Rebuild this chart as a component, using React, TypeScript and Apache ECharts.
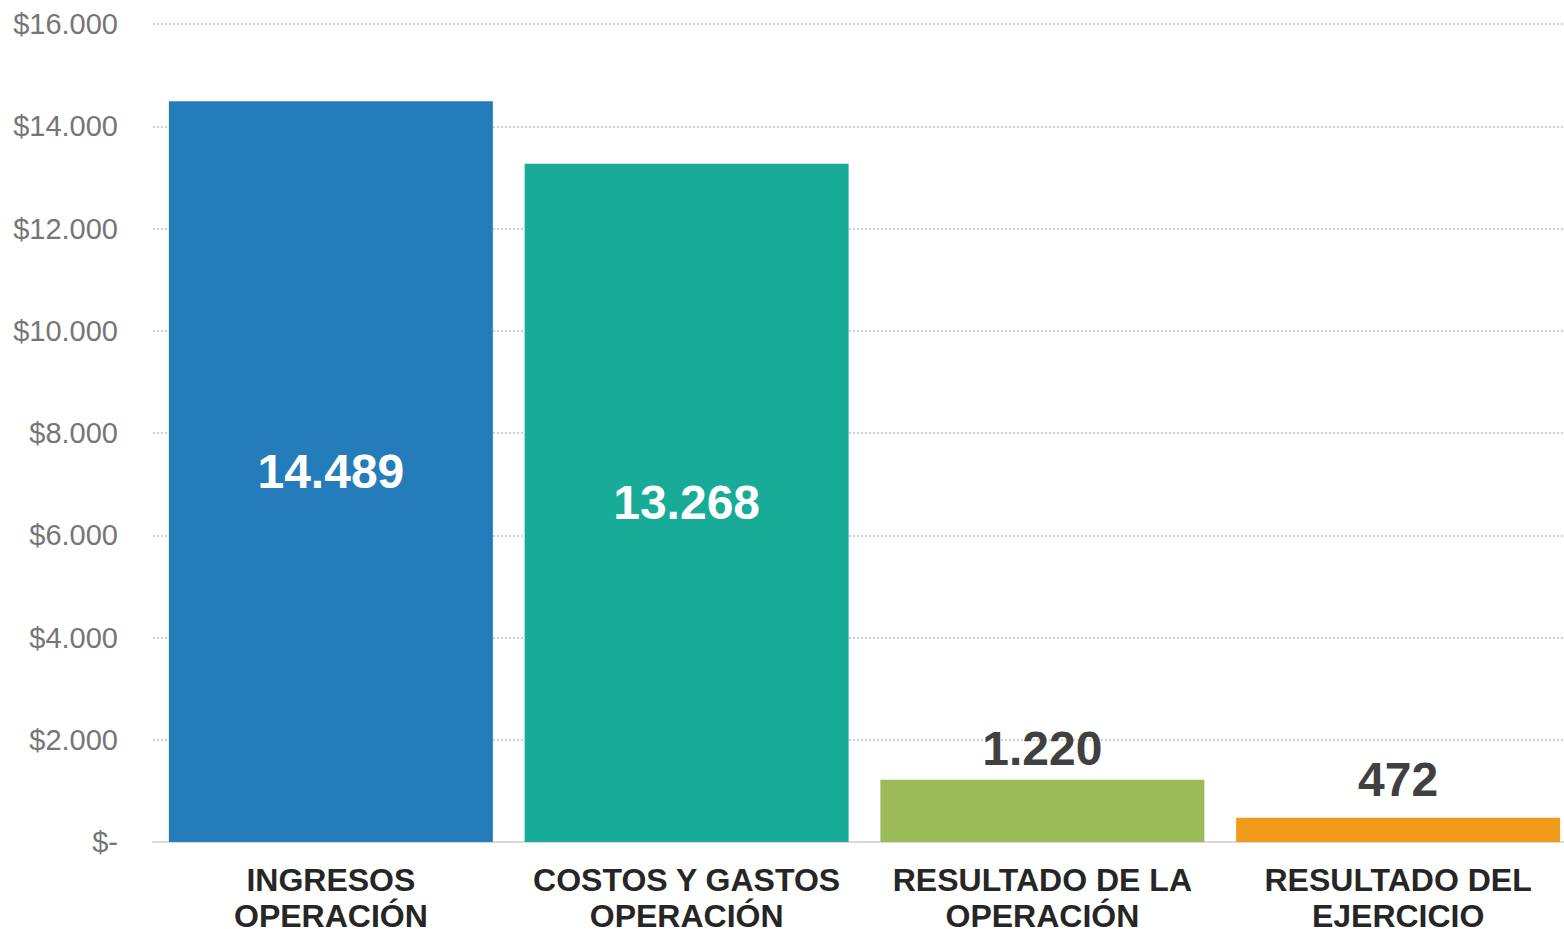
import React, { useEffect, useRef } from "react";
import * as echarts from "echarts";

const categories = [
  "INGRESOS\nOPERACIÓN",
  "COSTOS Y GASTOS\nOPERACIÓN",
  "RESULTADO DE LA\nOPERACIÓN",
  "RESULTADO DEL\nEJERCICIO",
];
const values = [14489, 13268, 1220, 472];
const barColors = ["#257CBA", "#17AB98", "#9BBB59", "#F09B19"];
const labelInside = [true, true, false, false];
const labelDistance = [0, 0, 7, 14];
const yMax = 16000;
const yInterval = 2000;

const fmt = (v: number) => {
  const s = Math.round(v).toString();
  return s.replace(/\B(?=(\d{3})+(?!\d))/g, ".");
};

export default function App() {
  const ref = useRef<HTMLDivElement>(null);
  useEffect(() => {
    if (!ref.current) return;
    const chart = echarts.init(ref.current, null, { renderer: "svg" });
    const font = "'Liberation Sans', Arial, sans-serif";
    chart.setOption({
      animation: false,
      backgroundColor: "#ffffff",
      grid: {
        left: 153,
        right: 0,
        top: 24,
        bottom: 87,
        containLabel: false,
        outerBoundsMode: "none",
      },
      xAxis: {
        type: "category",
        data: categories,
        axisLine: { show: true, lineStyle: { color: "#d9d9d9", width: 2 } },
        axisTick: { show: false },
        axisLabel: {
          interval: 0,
          color: "#262626",
          fontFamily: font,
          fontWeight: "bold",
          fontSize: 32,
          lineHeight: 36,
          margin: 20,
        },
      },
      yAxis: {
        type: "value",
        min: 0,
        max: yMax,
        interval: yInterval,
        axisLine: { show: false },
        axisTick: { show: false },
        splitLine: {
          show: true,
          lineStyle: { color: "#d0d0d0", width: 2, type: [2, 2] },
        },
        axisLabel: {
          color: "#767676",
          fontFamily: font,
          fontSize: 29,
          margin: 35,
          formatter: (v: number) => (v === 0 ? "$-" : "$" + fmt(v)),
        },
      },
      series: [
        {
          type: "bar",
          barWidth: "91.07%",
          data: values.map((v, i) => ({
            value: v,
            itemStyle: { color: barColors[i] },
            label: labelInside[i]
              ? { show: true, position: "inside", color: "#ffffff" }
              : {
                  show: true,
                  position: "top",
                  color: "#404040",
                  distance: labelDistance[i],
                },
          })),
          label: {
            show: true,
            fontFamily: font,
            fontWeight: "bold",
            fontSize: 48,
            formatter: (p: any) => fmt(p.value),
          },
        },
      ],
    });
    return () => chart.dispose();
  }, []);
  return (
    <div
      style={{
        position: "fixed",
        left: 0,
        top: 0,
        width: 1564,
        height: 929,
        overflow: "hidden",
        background: "#ffffff",
      }}
    >
      <div ref={ref} style={{ width: 1576, height: 929 }} />
    </div>
  );
}
